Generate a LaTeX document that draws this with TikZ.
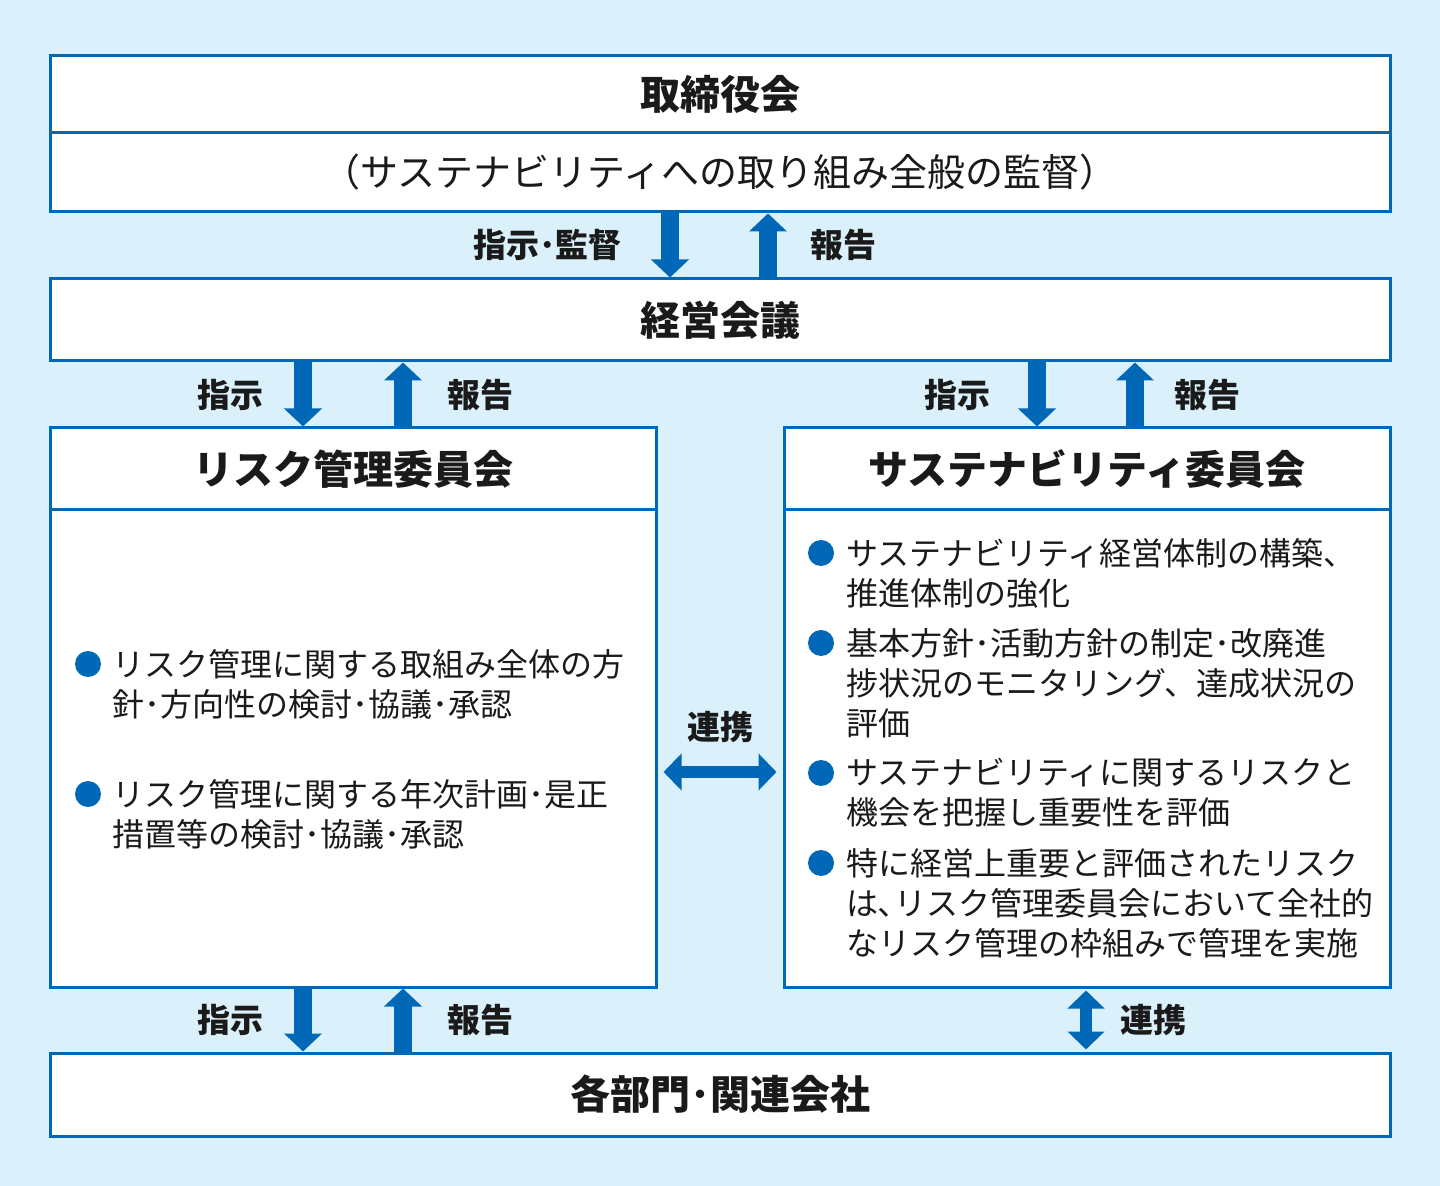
\documentclass[tikz,border=0pt]{standalone}
\usepackage{fontspec}
\setmainfont{Noto Sans CJK JP}
\usepackage{xcolor}
\usetikzlibrary{arrows.meta}
\definecolor{frameblue}{HTML}{0068B7}
\definecolor{paleblue}{HTML}{DAF0FA}
\definecolor{inkblack}{HTML}{1A1A1A}
\tikzstyle{panel} = [rectangle, 
draw=frameblue, 
line width=1.5pt, 
fill=white, 
inner sep=0pt, 
text=inkblack, 
text centered]
\tikzstyle{wide} = [panel, minimum width=670pt]
\tikzstyle{half} = [panel, minimum width=303pt]
\tikzstyle{heading} = [font=\fontsize{20}{24}\selectfont\bfseries]
\tikzstyle{flowlabel} = [inner sep=0pt, text=inkblack, font=\fontsize{16.5}{20}\selectfont\bfseries]
\tikzstyle{item} = [anchor=west, align=left, inner sep=0pt, text=inkblack, 
font=\fontsize{16}{20}\selectfont]
\tikzstyle{arrow} = [frameblue, line width=9pt, -{Triangle[length=9pt,width=18.5pt]}]
\tikzstyle{twoway} = [frameblue, line width=6pt, 
{Triangle[length=9pt,width=18pt]}-{Triangle[length=9pt,width=18pt]}]
\tikzstyle{bulletmark} = [fill=frameblue]

\begin{document}
\begin{tikzpicture}[x=0.5pt, y=-0.5pt]

\fill [paleblue] (0,0) rectangle (1440,1186);

% boxes
\node (board) [wide, heading, minimum height=38.5pt] at (720,94.5) {取締役会};
\node (boardnote) [wide, minimum height=39.5pt, font=\fontsize{19}{22}\selectfont] at (720,172.5) {（サステナビリティへの取り組み全般の監督）};
\node (mgmt) [wide, heading, minimum height=41pt] at (720,320) {経営会議};
\node (riskhead) [half, heading, minimum height=41pt] at (353,469) {リスク管理委員会};
\node (riskbody) [half, minimum height=238.5pt] at (353,748.5) {};
\node (sushead) [half, heading, minimum height=41pt] at (1087,469) {サステナビリティ委員会};
\node (susbody) [half, minimum height=238.5pt] at (1087,748.5) {};
\node (dept) [wide, heading, minimum height=41.5pt] at (720,1094.5) {各部門･関連会社};

% x positions of the arrows
\coordinate (topdn) at (670,0);
\coordinate (topup) at (768,0);
\coordinate (ldn) at (303,0);
\coordinate (lup) at (403,0);
\coordinate (rdn) at (1037,0);
\coordinate (rup) at (1135,0);
\coordinate (rboth) at (1086,0);

\draw [arrow] (boardnote.south -| topdn) -- (mgmt.north -| topdn);
\draw [arrow] (mgmt.north -| topup) -- (boardnote.south -| topup);
\draw [arrow] (mgmt.south -| ldn) -- (riskhead.north -| ldn);
\draw [arrow] (riskhead.north -| lup) -- (mgmt.south -| lup);
\draw [arrow] (mgmt.south -| rdn) -- (sushead.north -| rdn);
\draw [arrow] (sushead.north -| rup) -- (mgmt.south -| rup);
\draw [arrow] (riskbody.south -| ldn) -- (dept.north -| ldn);
\draw [arrow] (dept.north -| lup) -- (riskbody.south -| lup);
\draw [twoway] ([xshift=3pt]riskbody.east |- 0,772) -- ([xshift=-3pt]susbody.west |- 0,772);
\draw [twoway] ([yshift=-1pt]susbody.south -| rboth) -- ([yshift=1pt]dept.north -| rboth);

% arrow labels
\node (lbltop1) [flowlabel, anchor=east] at (622,245) {指示･監督};
\node (lbltop2) [flowlabel, anchor=west] at (810,245) {報告};
\node (lbll1) [flowlabel] at (230,395) {指示};
\node (lbll2) [flowlabel] at (480,395) {報告};
\node (lblr1) [flowlabel] at (957,395) {指示};
\node (lblr2) [flowlabel] at (1207,395) {報告};
\node (lblb1) [flowlabel] at (230,1020) {指示};
\node (lblb2) [flowlabel] at (480,1020) {報告};
\node (lblb3) [flowlabel] at (1153,1020) {連携};
\node (lblmid) [flowlabel] at (720,727) {連携};

% risk committee items
\fill [bulletmark] (88,664) circle (6.5pt);
\node (risk1) [item] at (112,684) {リスク管理に関する取組み全体の方\\針･方向性の検討･協議･承認};
\fill [bulletmark] (88,794) circle (6.5pt);
\node (risk2) [item] at (112,814) {リスク管理に関する年次計画･是正\\措置等の検討･協議･承認};

% sustainability committee items
\fill [bulletmark] (821,553) circle (6.5pt);
\node (sus1) [item] at (846,573) {サステナビリティ経営体制の構築、\\推進体制の強化};
\fill [bulletmark] (821,643) circle (6.5pt);
\node (sus2) [item] at (846,683) {基本方針･活動方針の制定･改廃進\\捗状況のモニタリング、達成状況の\\評価};
\fill [bulletmark] (821,773) circle (6.5pt);
\node (sus3) [item] at (846,793) {サステナビリティに関するリスクと\\機会を把握し重要性を評価};
\fill [bulletmark] (821,863) circle (6.5pt);
\node (sus4) [item] at (846,903) {特に経営上重要と評価されたリスク\\は､リスク管理委員会において全社的\\なリスク管理の枠組みで管理を実施};

\end{tikzpicture}
\end{document}
